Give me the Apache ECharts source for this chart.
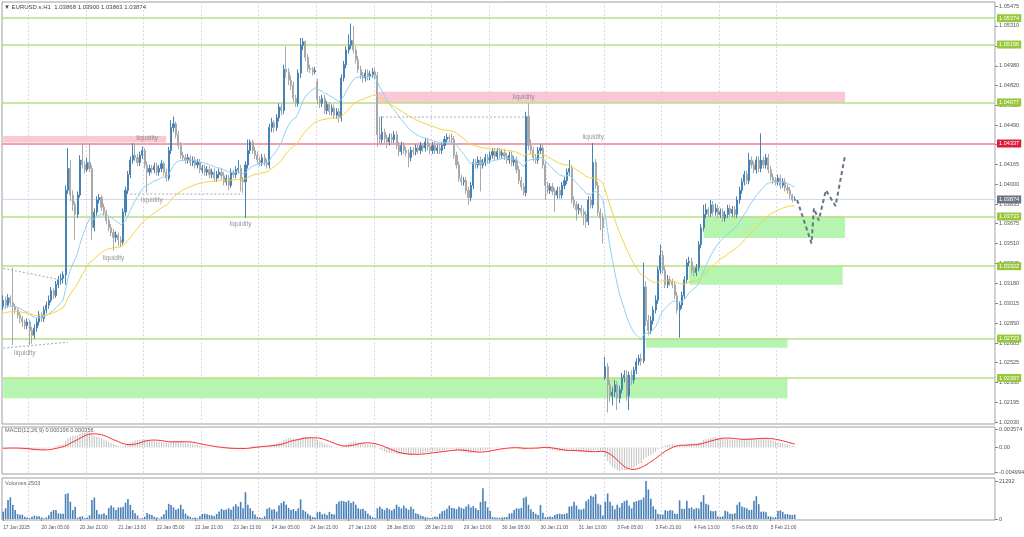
<!DOCTYPE html>
<html><head><meta charset="utf-8">
<script src="https://cdn.jsdelivr.net/npm/echarts@6/dist/echarts.min.js"></script>
<style>html,body{margin:0;padding:0;background:#fff}#c{width:1024px;height:537px}</style>
</head><body><div id="c"></div>
<script>
// ---------- DATA ----------
const closes = [
1.0304,1.0300,1.0306,1.0302,1.0299,1.0296,1.0292,1.0289,1.0286,1.0283,
1.0286,1.0279,1.0275,1.0281,1.0286,1.0292,1.0289,1.0296,1.0300,1.0304,
1.0312,1.0308,1.0317,1.0321,1.0322,1.0325,1.0395,1.0413,1.0391,1.0383,
1.0375,1.0391,1.0420,1.0416,1.0412,1.0418,1.0413,1.0364,1.0377,1.0387,
1.0389,1.0381,1.0377,1.0370,1.0364,1.0360,1.0356,1.0358,1.0354,1.0352,
1.0377,1.0395,1.0408,1.0420,1.0424,1.0422,1.0418,1.0424,1.0428,1.0416,
1.0410,1.0413,1.0412,1.0415,1.0410,1.0413,1.0417,1.0410,1.0405,1.0428,
1.0447,1.0450,1.0441,1.0432,1.0424,1.0422,1.0420,1.0422,1.0418,1.0420,
1.0416,1.0418,1.0412,1.0413,1.0410,1.0412,1.0408,1.0410,1.0405,1.0408,
1.0410,1.0407,1.0402,1.0405,1.0399,1.0410,1.0408,1.0412,1.0413,1.0403,
1.0402,1.0416,1.0428,1.0435,1.0428,1.0424,1.0420,1.0418,1.0422,1.0418,
1.0416,1.0447,1.0451,1.0447,1.0455,1.0464,1.0461,1.0495,1.0493,1.0486,
1.0482,1.0471,1.0467,1.0492,1.0515,1.0518,1.0505,1.0496,1.0495,1.0493,
1.0494,1.0470,1.0467,1.0471,1.0461,1.0466,1.0460,1.0463,1.0457,1.0460,
1.0455,1.0488,1.0499,1.0511,1.0515,1.0519,1.0511,1.0503,1.0495,1.0490,
1.0488,1.0492,1.0489,1.0491,1.0493,1.0490,1.0441,1.0437,1.0443,1.0438,
1.0435,1.0439,1.0437,1.0441,1.0432,1.0427,1.0432,1.0428,1.0426,1.0422,
1.0428,1.0427,1.0430,1.0428,1.0432,1.0430,1.0435,1.0431,1.0428,1.0432,
1.0428,1.0430,1.0428,1.0432,1.0437,1.0439,1.0438,1.0437,1.0424,1.0416,
1.0405,1.0402,1.0403,1.0395,1.0389,1.0399,1.0418,1.0416,1.0420,1.0416,
1.0418,1.0422,1.0420,1.0424,1.0427,1.0423,1.0427,1.0424,1.0426,1.0423,
1.0420,1.0424,1.0418,1.0420,1.0412,1.0403,1.0398,1.0393,1.0456,1.0432,
1.0428,1.0422,1.0420,1.0428,1.0430,1.0416,1.0399,1.0395,1.0398,1.0394,
1.0391,1.0395,1.0391,1.0399,1.0403,1.0410,1.0413,1.0387,1.0383,1.0379,
1.0380,1.0377,1.0375,1.0369,1.0387,1.0383,1.0418,1.0399,1.0377,1.0372,
1.0364,1.0249,1.0234,1.0225,1.0228,1.0234,1.0223,1.0230,1.0240,1.0242,
1.0225,1.0242,1.0238,1.0246,1.0253,1.0256,1.0254,1.0315,1.0287,1.0279,
1.0287,1.0296,1.0304,1.0329,1.0341,1.0329,1.0317,1.0321,1.0319,1.0317,
1.0308,1.0296,1.0300,1.0308,1.0321,1.0335,1.0336,1.0329,1.0327,1.0331,
1.0350,1.0364,1.0375,1.0379,1.0376,1.0383,1.0377,1.0380,1.0375,1.0377,
1.0372,1.0375,1.0380,1.0376,1.0379,1.0375,1.0387,1.0395,1.0402,1.0408,
1.0403,1.0420,1.0416,1.0412,1.0420,1.0413,1.0420,1.0416,1.0422,1.0412,
1.0406,1.0403,1.0402,1.0405,1.0399,1.0402,1.0397,1.0395,1.0391,1.0387,1.03874];
const highs = [
1.0308,1.0307,1.0309,1.0308,1.0331,1.0301,1.0298,1.0294,1.0291,1.0288,
1.0289,1.0288,1.0282,1.0284,1.0289,1.0295,1.0294,1.0299,1.0303,1.0308,
1.0315,1.0314,1.0320,1.0324,1.0326,1.0328,1.0399,1.0430,1.0420,1.0395,
1.0386,1.0394,1.0424,1.0434,1.0419,1.0422,1.0434,1.0416,1.0380,1.0390,
1.0392,1.0391,1.0384,1.0379,1.0373,1.0367,1.0363,1.0361,1.0360,1.0357,
1.0380,1.0398,1.0411,1.0423,1.0434,1.0434,1.0425,1.0427,1.0431,1.0430,
1.0419,1.0416,1.0416,1.0418,1.0418,1.0416,1.0420,1.0419,1.0413,1.0431,
1.0453,1.0456,1.0452,1.0444,1.0435,1.0427,1.0425,1.0425,1.0424,1.0423,
1.0423,1.0421,1.0421,1.0416,1.0416,1.0415,1.0415,1.0413,1.0413,1.0411,
1.0413,1.0413,1.0410,1.0408,1.0408,1.0413,1.0412,1.0415,1.0420,1.0416,
1.0406,1.0419,1.0437,1.0437,1.0437,1.0431,1.0427,1.0423,1.0425,1.0425,
1.0421,1.0450,1.0455,1.0453,1.0458,1.0467,1.0467,1.0499,1.0514,1.0496,
1.0490,1.0485,1.0474,1.0495,1.0521,1.0521,1.0519,1.0508,1.0499,1.0497,
1.0497,1.0487,1.0473,1.0474,1.0474,1.0469,1.0468,1.0466,1.0466,1.0463,
1.0463,1.0491,1.0502,1.0514,1.0524,1.0533,1.0531,1.0514,1.0506,1.0498,
1.0493,1.0495,1.0495,1.0494,1.0496,1.0496,1.0493,1.0456,1.0456,1.0446,
1.0441,1.0442,1.0442,1.0444,1.0444,1.0435,1.0435,1.0435,1.0431,1.0429,
1.0431,1.0431,1.0433,1.0433,1.0435,1.0434,1.0438,1.0438,1.0434,1.0435,
1.0435,1.0433,1.0433,1.0435,1.0440,1.0442,1.0441,1.0442,1.0440,1.0427,
1.0419,1.0408,1.0406,1.0406,1.0398,1.0402,1.0421,1.0421,1.0423,1.0423,
1.0421,1.0425,1.0425,1.0427,1.0430,1.0430,1.0430,1.0430,1.0429,1.0429,
1.0426,1.0427,1.0427,1.0423,1.0423,1.0415,1.0406,1.0401,1.0460,1.0467,
1.0437,1.0431,1.0425,1.0431,1.0433,1.0433,1.0419,1.0402,1.0401,1.0401,
1.0397,1.0398,1.0398,1.0402,1.0406,1.0413,1.0420,1.0416,1.0390,1.0386,
1.0384,1.0383,1.0380,1.0378,1.0390,1.0390,1.0434,1.0421,1.0402,1.0380,
1.0376,1.0257,1.0252,1.0238,1.0232,1.0238,1.0237,1.0233,1.0244,1.0246,
1.0246,1.0245,1.0246,1.0249,1.0256,1.0259,1.0260,1.0335,1.0320,1.0292,
1.0291,1.0299,1.0308,1.0332,1.0350,1.0345,1.0332,1.0325,1.0324,1.0322,
1.0320,1.0311,1.0303,1.0311,1.0324,1.0338,1.0340,1.0339,1.0332,1.0334,
1.0353,1.0367,1.0383,1.0384,1.0381,1.0387,1.0386,1.0384,1.0383,1.0380,
1.0380,1.0378,1.0383,1.0383,1.0382,1.0382,1.0390,1.0398,1.0405,1.0411,
1.0411,1.0426,1.0423,1.0419,1.0423,1.0423,1.0442,1.0423,1.0425,1.0425,
1.0415,1.0409,1.0406,1.0408,1.0408,1.0405,1.0405,1.0400,1.0398,1.0392,1.03900];
const lows = [
1.0296,1.0297,1.0298,1.0299,1.0267,1.0293,1.0289,1.0285,1.0282,1.0280,
1.0280,1.0267,1.0268,1.0272,1.0278,1.0283,1.0286,1.0286,1.0293,1.0297,
1.0302,1.0305,1.0306,1.0314,1.0317,1.0318,1.0317,1.0392,1.0386,1.0378,
1.0354,1.0372,1.0389,1.0413,1.0409,1.0410,1.0410,1.0354,1.0361,1.0374,
1.0384,1.0378,1.0374,1.0367,1.0361,1.0357,1.0345,1.0352,1.0349,1.0348,
1.0350,1.0374,1.0392,1.0405,1.0417,1.0419,1.0415,1.0415,1.0421,1.0413,
1.0393,1.0407,1.0409,1.0409,1.0407,1.0407,1.0410,1.0407,1.0402,1.0403,
1.0425,1.0443,1.0438,1.0429,1.0421,1.0419,1.0417,1.0417,1.0415,1.0415,
1.0413,1.0413,1.0409,1.0409,1.0407,1.0407,1.0405,1.0405,1.0402,1.0402,
1.0405,1.0404,1.0399,1.0399,1.0395,1.0397,1.0405,1.0405,1.0409,1.0394,
1.0393,1.0372,1.0413,1.0425,1.0425,1.0421,1.0417,1.0415,1.0415,1.0415,
1.0413,1.0413,1.0443,1.0443,1.0444,1.0452,1.0457,1.0458,1.0488,1.0482,
1.0478,1.0468,1.0464,1.0464,1.0488,1.0511,1.0502,1.0493,1.0492,1.0490,
1.0491,1.0466,1.0463,1.0464,1.0458,1.0458,1.0457,1.0457,1.0454,1.0454,
1.0451,1.0452,1.0485,1.0496,1.0508,1.0512,1.0508,1.0500,1.0492,1.0487,
1.0484,1.0485,1.0486,1.0486,1.0488,1.0487,1.0431,1.0433,1.0434,1.0434,
1.0430,1.0432,1.0434,1.0434,1.0429,1.0423,1.0424,1.0425,1.0423,1.0414,
1.0419,1.0424,1.0424,1.0425,1.0425,1.0427,1.0427,1.0428,1.0425,1.0425,
1.0425,1.0425,1.0425,1.0425,1.0429,1.0434,1.0435,1.0434,1.0421,1.0413,
1.0402,1.0399,1.0399,1.0392,1.0383,1.0386,1.0396,1.0413,1.0413,1.0394,
1.0413,1.0415,1.0417,1.0417,1.0421,1.0420,1.0420,1.0421,1.0421,1.0420,
1.0417,1.0417,1.0415,1.0415,1.0409,1.0400,1.0395,1.0391,1.0390,1.0428,
1.0425,1.0419,1.0417,1.0417,1.0425,1.0413,1.0387,1.0392,1.0392,1.0391,
1.0377,1.0388,1.0388,1.0388,1.0396,1.0400,1.0407,1.0384,1.0380,1.0370,
1.0375,1.0374,1.0366,1.0364,1.0366,1.0380,1.0380,1.0396,1.0374,1.0362,
1.0351,1.0238,1.0211,1.0220,1.0217,1.0224,1.0213,1.0219,1.0227,1.0236,
1.0221,1.0213,1.0234,1.0235,1.0243,1.0250,1.0250,1.0252,1.0283,1.0275,
1.0276,1.0284,1.0293,1.0301,1.0326,1.0326,1.0314,1.0314,1.0316,1.0314,
1.0305,1.0293,1.0273,1.0297,1.0305,1.0318,1.0332,1.0326,1.0324,1.0324,
1.0328,1.0347,1.0361,1.0372,1.0373,1.0373,1.0374,1.0374,1.0372,1.0372,
1.0369,1.0369,1.0372,1.0373,1.0373,1.0372,1.0372,1.0384,1.0392,1.0399,
1.0400,1.0400,1.0413,1.0409,1.0409,1.0410,1.0410,1.0413,1.0413,1.0409,
1.0403,1.0400,1.0399,1.0399,1.0396,1.0397,1.0394,1.0392,1.0388,1.0385,1.03863];
// opens follow the previous close except on these bars (session gaps / last bar)
const gapOpens = {0:1.0299, 131:1.0485, 251:1.0240, 330:1.03868};
const volumes = [
4100,6000,10700,12200,7900,5000,2800,2400,2400,1300,
900,600,1300,1900,1500,1500,900,400,900,2100,
4100,5000,5000,3200,3000,3000,14000,14400,9700,5000,
6900,750,1300,1500,500,900,2100,10700,12000,5000,
2600,2600,3200,2200,6200,7500,6500,5000,6500,6500,
6900,9200,11200,7900,5000,3200,1900,300,500,1300,
3400,2600,2200,1300,900,300,1300,2600,5000,8500,
7800,6500,5200,5800,8000,5500,3000,1800,1200,600,
900,400,1500,2800,3000,2600,2200,2000,1600,2800,
4200,5600,5000,5300,6000,5200,7000,8200,7000,9500,
6000,15000,8000,6000,4500,2500,1200,800,600,1500,
5800,6400,5200,5500,4200,7500,9000,10000,8000,6200,
5000,5600,4500,6000,11000,5000,4200,3000,2000,1200,
800,3800,4000,2600,3000,2200,4000,2800,2500,8500,
9800,10200,10000,9500,10400,9000,9800,8000,6000,5500,
5800,4600,3000,2000,1000,600,6000,7000,5800,5000,
6200,5400,4800,5600,8000,6800,5900,7500,6000,5200,
6800,5600,3200,2800,2000,1500,1000,800,500,900,
1400,1200,3000,4400,4800,5800,7500,6200,6000,5500,
6800,6200,5800,7000,8200,6500,7200,6000,5000,9500,
17200,10000,6500,4500,1200,900,800,700,900,1000,
1100,3000,3300,5000,6000,5800,6200,11800,12500,8000,
5500,4000,3000,2200,7800,3500,1000,1200,1400,1200,
2200,2800,3000,2600,2800,3200,7000,7200,9700,7500,
5400,5200,5800,10000,11000,13000,12500,14000,8500,8000,
2000,9700,14300,9700,7500,5500,8000,6500,9000,10000,
10500,7500,6000,9500,10000,10500,10800,12000,21292,16500,
11400,7100,5400,3000,2500,2400,4900,4500,5000,4800,
3000,2800,10500,5800,5600,10200,6000,6500,5500,6200,
5800,9700,13400,8500,8000,4600,4400,4600,1400,1200,
1500,4600,4200,3000,2800,3200,8000,9500,7000,6500,
6000,5000,5200,10200,12800,8300,4000,4200,3800,1500,
1400,800,1100,4500,4800,4000,2600,2800,2400,2200,2503];
const timeLabels = ['17 Jan 2025','20 Jan 05:00','20 Jan 21:00','21 Jan 13:00','22 Jan 05:00','22 Jan 21:00','23 Jan 13:00','24 Jan 05:00','24 Jan 21:00','27 Jan 13:00','28 Jan 05:00','28 Jan 21:00','29 Jan 13:00','30 Jan 05:00','30 Jan 21:00','31 Jan 13:00','3 Feb 05:00','3 Feb 21:00','4 Feb 13:00','5 Feb 05:00','5 Feb 21:00'];
const priceTicks = [1.05475,1.05310,1.05145,1.04980,1.04820,1.04655,1.04490,1.04330,1.04165,1.04000,1.03835,1.03675,1.03510,1.03345,1.03180,1.03015,1.02850,1.02685,1.02525,1.02360,1.02195,1.02030];
const macdTicks = [0.003574, 0, -0.004994];
const volumeTicks = [21292, 0];
const greenLevels = [1.05374,1.05156,1.04677,1.03733,1.03322,1.02723,1.02397];
const redLevel = 1.04337;
const bidLevel = 1.03874;
// zones: [fromBar, toBar, lowPrice, highPrice]
const pinkZones = [[0,68,1.04345,1.04400],[156,351,1.04675,1.04765]];
const greenZones = [[0,327,1.02230,1.02397],[268,327,1.02647,1.02723],[286,350,1.03168,1.03322],[292,351,1.03556,1.03733]];
// dotted liquidity connectors: [[bar, price],[bar, price]]
const connectors = [[[0,1.03304],[23,1.03213]],[[0,1.02644],[27,1.02693]],[[53,1.03919],[100,1.03919]],[[158,1.04556],[218,1.04556]]];
const projBars = [331,337,338,340,343,347,351];
const projPrices = [1.0387,1.0351,1.0380,1.0370,1.0395,1.0382,1.0424];
const liqBars = [60,217,246,62,99,46,9];
const liqPrices = [1.0438,1.0472,1.0439,1.0387,1.0367,1.0339,1.0260];
// moving-average / MACD seeds (values before first bar)
const maFastSeed = 1.0297, maSlowSeed = 1.0293, macdFastSeed = 1.0300, macdSlowSeed = 1.0302;

// ---------- BUILD ----------
const SLOTS = 414;
const cats = Array.from({length: SLOTS}, (_, i) => i);
const opens = closes.map((c, i) => gapOpens[i] !== undefined ? gapOpens[i] : closes[i - 1]);
const candleData = closes.map((c, i) => [opens[i], c, lows[i], highs[i]]);
function ema(src, period, seed) { const k = 2 / (period + 1); let e = seed; return src.map(v => { e = e + k * (v - e); return e; }); }
const maBlue = ema(closes, 20, maFastSeed);
const maYellow = ema(closes, 50, maSlowSeed);
const fastE = ema(closes, 12, macdFastSeed), slowE = ema(closes, 26, macdSlowSeed);
const macd = fastE.map((f, i) => f - slowE[i]);
const signal = macd.map((_, i) => { const w = macd.slice(Math.max(0, i - 8), i + 1); return w.reduce((a, b) => a + b, 0) / w.length; });

const FONT = 'Liberation Sans';
const midnight = (i) => i > 0 && i <= 323 && (i - 11) % 24 === 0;
const splitLine = { show: true, interval: (i) => midnight(i), lineStyle: { color: '#d9d9ea', type: [2, 2], width: 1 } };
const labelIdx = (i) => i % 16 === 0 && i <= 320;

const grids = [
  { left: 2, top: 2, width: 993, height: 422 },
  { left: 2, top: 427, width: 993, height: 47 },
  { left: 2, top: 478, width: 993, height: 42 }
].map(g => Object.assign(g, { show: true, borderColor: '#9a9ea6', borderWidth: 1, backgroundColor: 'transparent', containLabel: false, outerBoundsMode: 'none' }));

function xAx(gi, showLabels) {
  return {
    type: 'category', gridIndex: gi, data: cats, boundaryGap: true,
    axisLine: { show: false },
    axisTick: showLabels ? { show: true, interval: (i) => labelIdx(i), alignWithLabel: true, length: 2, lineStyle: { color: '#888' } } : { show: false },
    axisLabel: showLabels ? { show: true, interval: (i) => labelIdx(i), formatter: (v, i) => timeLabels[Math.round(v / 16)] || '', align: 'left', fontSize: 4.8, fontFamily: FONT, color: '#555', margin: 5 } : { show: false },
    splitLine: splitLine
  };
}
function yAx(gi, min, max, ticks, fmt) {
  return {
    type: 'value', gridIndex: gi, position: 'right', min: min, max: max, scale: true,
    axisLine: { show: false },
    axisTick: { show: true, length: 3, customValues: ticks, lineStyle: { color: '#888' } },
    axisLabel: { show: true, customValues: ticks, formatter: fmt, align: 'left', margin: 4, fontSize: 5.6, fontFamily: FONT, color: '#555' },
    splitLine: { show: false }
  };
}

const levelLines = greenLevels.map(v => ({ yAxis: v, lineStyle: { color: '#b9dc86', width: 1.5, type: 'solid' }, label: { backgroundColor: '#97c83c' } }));
levelLines.push({ yAxis: redLevel, lineStyle: { color: '#f2a0ae', width: 2, type: 'solid' }, label: { backgroundColor: '#dc1c3c' } });
levelLines.push({ yAxis: bidLevel, lineStyle: { color: '#d6d6f2', width: 1, type: 'solid' }, label: { backgroundColor: '#6b7684' } });

const areas = pinkZones.map(z => [{ xAxis: z[0], yAxis: z[2], itemStyle: { color: '#f9c9d3' } }, { xAxis: z[1], yAxis: z[3] }])
  .concat(greenZones.map(z => [{ xAxis: z[0], yAxis: z[2], itemStyle: { color: '#b5f5b0' } }, { xAxis: z[1], yAxis: z[3] }]));

const series = [
  { type: 'line', name: 'zones', xAxisIndex: 0, yAxisIndex: 0, data: [], z: 1, silent: true,
    markArea: { silent: true, z: 1, itemStyle: { opacity: 1 }, data: areas } },
  { type: 'candlestick', xAxisIndex: 0, yAxisIndex: 0, data: candleData, barWidth: 1.6, z: 4, clip: false,
    itemStyle: { color: '#4682b4', color0: '#a9a9a9', borderColor: '#4682b4', borderColor0: '#a9a9a9', borderWidth: 1 },
    markLine: { silent: true, symbol: ['none', 'none'], animation: false, z: 3, precision: 5,
      label: { show: true, position: 'end', distance: 2, formatter: (p) => Number(p.value).toFixed(5), color: '#fff', fontSize: 5.6, fontFamily: FONT, padding: [1, 2, 1, 2] },
      data: levelLines } },
  { type: 'line', xAxisIndex: 0, yAxisIndex: 0, data: maBlue, showSymbol: false, z: 5, lineStyle: { color: '#8fd0f5', width: 1 } },
  { type: 'line', xAxisIndex: 0, yAxisIndex: 0, data: maYellow, showSymbol: false, z: 5, lineStyle: { color: '#f5d33c', width: 1 } }
];
connectors.forEach(c => series.push({ type: 'line', xAxisIndex: 0, yAxisIndex: 0, data: c, showSymbol: false, z: 5, lineStyle: { color: '#a8a8a8', width: 1, type: [2, 2] } }));
series.push({ type: 'line', xAxisIndex: 0, yAxisIndex: 0, data: projBars.map((b, i) => [b, projPrices[i]]), showSymbol: false, z: 6, lineStyle: { color: '#66758a', width: 2, type: [4, 3] } });
series.push({ type: 'scatter', xAxisIndex: 0, yAxisIndex: 0, symbolSize: 0, z: 7, data: liqBars.map((b, i) => [b, liqPrices[i]]),
  label: { show: true, position: 'inside', formatter: 'liquidity', color: '#7a7a7a', fontSize: 6.5, fontFamily: FONT } });
series.push({ type: 'bar', xAxisIndex: 1, yAxisIndex: 1, data: macd, barWidth: 1, itemStyle: { color: '#c0c0c0' }, z: 2 });
series.push({ type: 'line', xAxisIndex: 1, yAxisIndex: 1, data: signal, showSymbol: false, z: 3, lineStyle: { color: '#ff2a2a', width: 1 } });
series.push({ type: 'bar', xAxisIndex: 2, yAxisIndex: 2, data: volumes, barWidth: 1.6, itemStyle: { color: '#4a80b8' }, z: 2 });

const chart = echarts.init(document.getElementById('c'), null, { renderer: 'canvas' });
chart.setOption({
  animation: false,
  backgroundColor: '#ffffff',
  textStyle: { fontFamily: FONT },
  grid: grids,
  xAxis: [xAx(0, false), xAx(1, false), xAx(2, true)],
  yAxis: [
    yAx(0, 1.02016, 1.05508, priceTicks, (v) => Number(v).toFixed(5)),
    yAx(1, -0.005336, 0.004117, macdTicks, (v) => (Math.abs(v) < 1e-9 ? '0.00' : Number(v).toFixed(6))),
    yAx(2, -560, 22973, volumeTicks, (v) => String(Math.round(v)))
  ],
  graphic: [
    { type: 'text', left: 4, top: 4, z: 100, style: { text: '\u25BC EURUSD.s.H1  1.03868 1.03900 1.03863 1.03874', fontSize: 6, fontFamily: FONT, fill: '#444' } },
    { type: 'text', left: 5, top: 427, z: 100, style: { text: 'MACD(12,26,9) 0.000196 0.000356', fontSize: 5.6, fontFamily: FONT, fill: '#666' } },
    { type: 'text', left: 5, top: 480, z: 100, style: { text: 'Volumes 2503', fontSize: 5.6, fontFamily: FONT, fill: '#666' } }
  ],
  series: series
});
</script></body></html>
